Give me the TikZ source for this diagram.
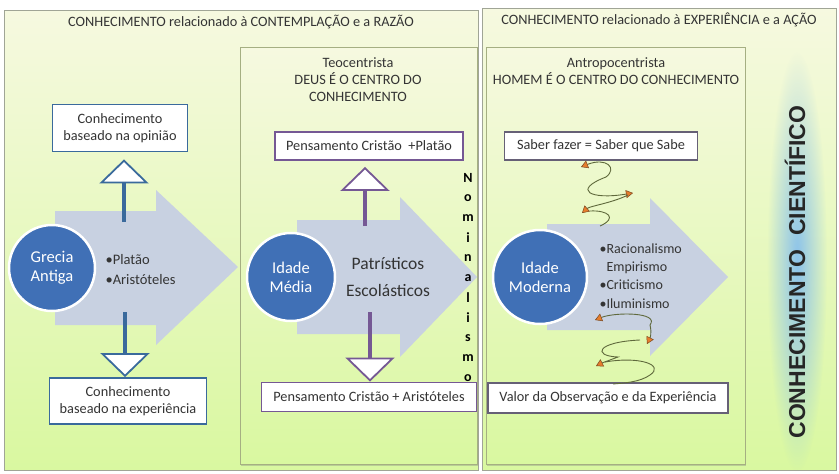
\documentclass[tikz,border=0pt]{standalone}
\usepackage{fontspec}
\setmainfont{Carlito}
\newfontfamily\arialfont{Liberation Sans}
\usetikzlibrary{positioning,calc,arrows.meta,shapes,fadings,shadows}

\definecolor{palelime}{RGB}{246,249,224}
\definecolor{lime}{RGB}{217,248,160}
\definecolor{framegray}{RGB}{160,165,150}
\definecolor{panelolive}{RGB}{165,175,130}
\definecolor{arrowgray}{RGB}{200,209,225}
\definecolor{erablue}{RGB}{64,112,182}
\definecolor{greciablue}{RGB}{58,106,156}
\definecolor{mediapurple}{RGB}{117,88,148}
\definecolor{modernagray}{RGB}{102,96,118}
\definecolor{textgray}{RGB}{52,52,52}
\definecolor{glowblue}{RGB}{140,195,235}
\definecolor{molagreen}{RGB}{95,105,60}
\definecolor{tiporange}{RGB}{230,125,45}
\definecolor{tipbrown}{RGB}{120,70,30}

\tikzfading[name=glowfade, inner color=transparent!0, outer color=transparent!100]

\begin{document}
\begin{tikzpicture}[x=1pt, y=-1pt,
  quadro/.style={draw=framegray, line width=0.8pt, top color=palelime, bottom color=lime},
  painel/.style={draw=panelolive, line width=0.8pt, top color=palelime, bottom color=lime, drop shadow={opacity=0.35, shadow xshift=0.8pt, shadow yshift=-1.5pt}},
  titulo/.style={text=textgray, align=center, font=\fontsize{14.3}{17}\selectfont},
  caixa/.style={rectangle, draw=#1, line width=1.8pt, fill=white, text=textgray, align=center, inner sep=2pt, font=\fontsize{14.3}{17.5}\selectfont},
  era/.style={circle, draw=white, line width=2.5pt, fill=erablue, text=white, align=center, minimum size=#1, inner sep=0pt, font=\fontsize{16.5}{19}\selectfont},
  lista/.style={text=textgray, align=left, anchor=west, font=\fontsize{14.5}{20}\selectfont},
  seta/.style={draw=#1, line width=4.5pt, -{Triangle[length=24pt, width=49pt, line width=1.8pt, fill=white]}},
  bloco/.style={fill=arrowgray},
  nominal/.style={text=black, inner sep=0pt, font=\bfseries\fontsize{14}{14}\selectfont},
  mola/.style={draw=molagreen, line width=0.9pt},
  ponta/.style={mola, -{Triangle[length=7pt, width=8pt, color=tipbrown, fill=tiporange, line width=0.5pt]}}]

\useasboundingbox[fill=white] (0,0) rectangle (839,474);

% QUADROS
\draw[quadro] (4,10) rectangle (478,470);
\draw[quadro] (482,8) rectangle (836,470);
\draw[painel] (240,47) rectangle (477,464);
\draw[painel] (486,47) rectangle (745,464);

\node[titulo] (razao) at (241,22) {CONHECIMENTO relacionado à CONTEMPLAÇÃO e a RAZÃO};
\node[titulo] (acao) at (659,20) {CONHECIMENTO relacionado à EXPERIÊNCIA e a AÇÃO};
\node[titulo] (teocentrista) at (358,80) {Teocentrista\\DEUS É O CENTRO DO\\CONHECIMENTO};
\node[titulo] (antropocentrista) at (616,71) {Antropocentrista\\HOMEM É O CENTRO DO CONHECIMENTO};

% CONHECIMENTO CIENTIFICO
\fill[glowblue, path fading=glowfade] (797,262) ellipse (30 and 210);
\node[rotate=90, text=black!85, font=\arialfont\bfseries\fontsize{23}{26}\selectfont] (cientifico) at (795,272) {CONHECIMENTO\hspace{14pt}CIENTÍFICO};

% SETAS GRANDES
\fill[bloco] (55,211) -- (156,211) -- (156,190) -- (238,267) -- (156,345) -- (156,325) -- (55,325) -- cycle;
\fill[bloco] (297,220) -- (400,220) -- (400,197) -- (477,277) -- (400,357) -- (400,334) -- (297,334) -- cycle;
\fill[bloco] (547,224) -- (650,224) -- (650,198) -- (728,277) -- (650,356) -- (650,330) -- (547,330) -- cycle;

% CAIXAS
\node[caixa=greciablue, minimum width=135pt, minimum height=47pt] (opiniao) at (120,128) {Conhecimento\\baseado na opinião};
\node[caixa=greciablue, minimum width=157pt, minimum height=46pt] (experiencia) at (128,401) {Conhecimento\\baseado na experiência};
\node[caixa=mediapurple, minimum width=188pt, minimum height=28pt] (platao) at (369,146) {Pensamento Cristão \ +Platão};
\node[caixa=modernagray, minimum width=193pt, minimum height=28pt] (saber) at (601,146) {Saber fazer = Saber que Sabe};
\node[caixa=modernagray, minimum width=240pt, minimum height=30pt] (valor) at (608,398) {Valor da Observação e da Experiência};

% NOMINALISMO
\foreach \letra [count=\n] in {N,o,m,i,n,a,l,i,s,m,o}
  \node[nominal] (nominal-\n) at (468,158+20*\n) {\letra};

\node[caixa=mediapurple, minimum width=215pt, minimum height=29pt] (aristoteles) at (369,397) {Pensamento Cristão + Aristóteles};

% SETAS PEQUENAS
\coordinate (grecia-cima) at (124,222);
\coordinate (grecia-baixo) at (125,312);
\coordinate (media-cima) at (365,226);
\coordinate (media-baixo) at (370,312);
\draw[seta=greciablue, shorten >=7pt] (grecia-cima) -- (grecia-cima |- opiniao.south);
\draw[seta=greciablue] (grecia-baixo) -- (grecia-baixo |- experiencia.north);
\draw[seta=mediapurple, line width=4pt, shorten >=6pt] (media-cima) -- (media-cima |- platao.south);
\draw[seta=mediapurple, line width=4pt] (media-baixo) -- (media-baixo |- aristoteles.north);

% ERAS
\node[era=86pt] (grecia) at (52,268) {Grecia\\Antiga};
\node[era=88pt] (media) at (291,277) {Idade\\Média};
\node[era=94pt] (moderna) at (540,277) {Idade\\Moderna};

\node[lista] (grecia-lista) at (102,270) {•Platão\\•Aristóteles};
\node[text=textgray, align=center, font=\fontsize{17.5}{27}\selectfont] (media-lista) at (388,277) {Patrísticos\\Escolásticos};
\node[lista, font=\fontsize{14}{18.3}\selectfont] (moderna-lista) at (596,276) {•Racionalismo\\\hphantom{•}Empirismo\\•Criticismo\\•Iluminismo};

% MOLAS
\draw[ponta] (606,177) .. controls (618,168) and (606,157) .. (581,167);
\draw[ponta] (606,177) .. controls (572,190) and (590,200) .. (633,193);
\draw[ponta] (628,195) .. controls (612,203) and (590,206) .. (582,213);
\draw[mola] (590,211) .. controls (608,210) and (618,218) .. (600,226);
\draw[ponta] (650,325) .. controls (660,312) and (615,312) .. (595,320);
\draw[ponta] (650,325) .. controls (652,333) and (650,338) .. (647,344);
\draw[ponta] (640,340) .. controls (596,342) and (592,356) .. (618,357) .. controls (610,360) and (602,363) .. (596,366);
\draw[mola] (605,362) .. controls (640,356) and (665,365) .. (650,375) .. controls (640,382) and (625,383) .. (613,384);

\end{tikzpicture}
\end{document}
